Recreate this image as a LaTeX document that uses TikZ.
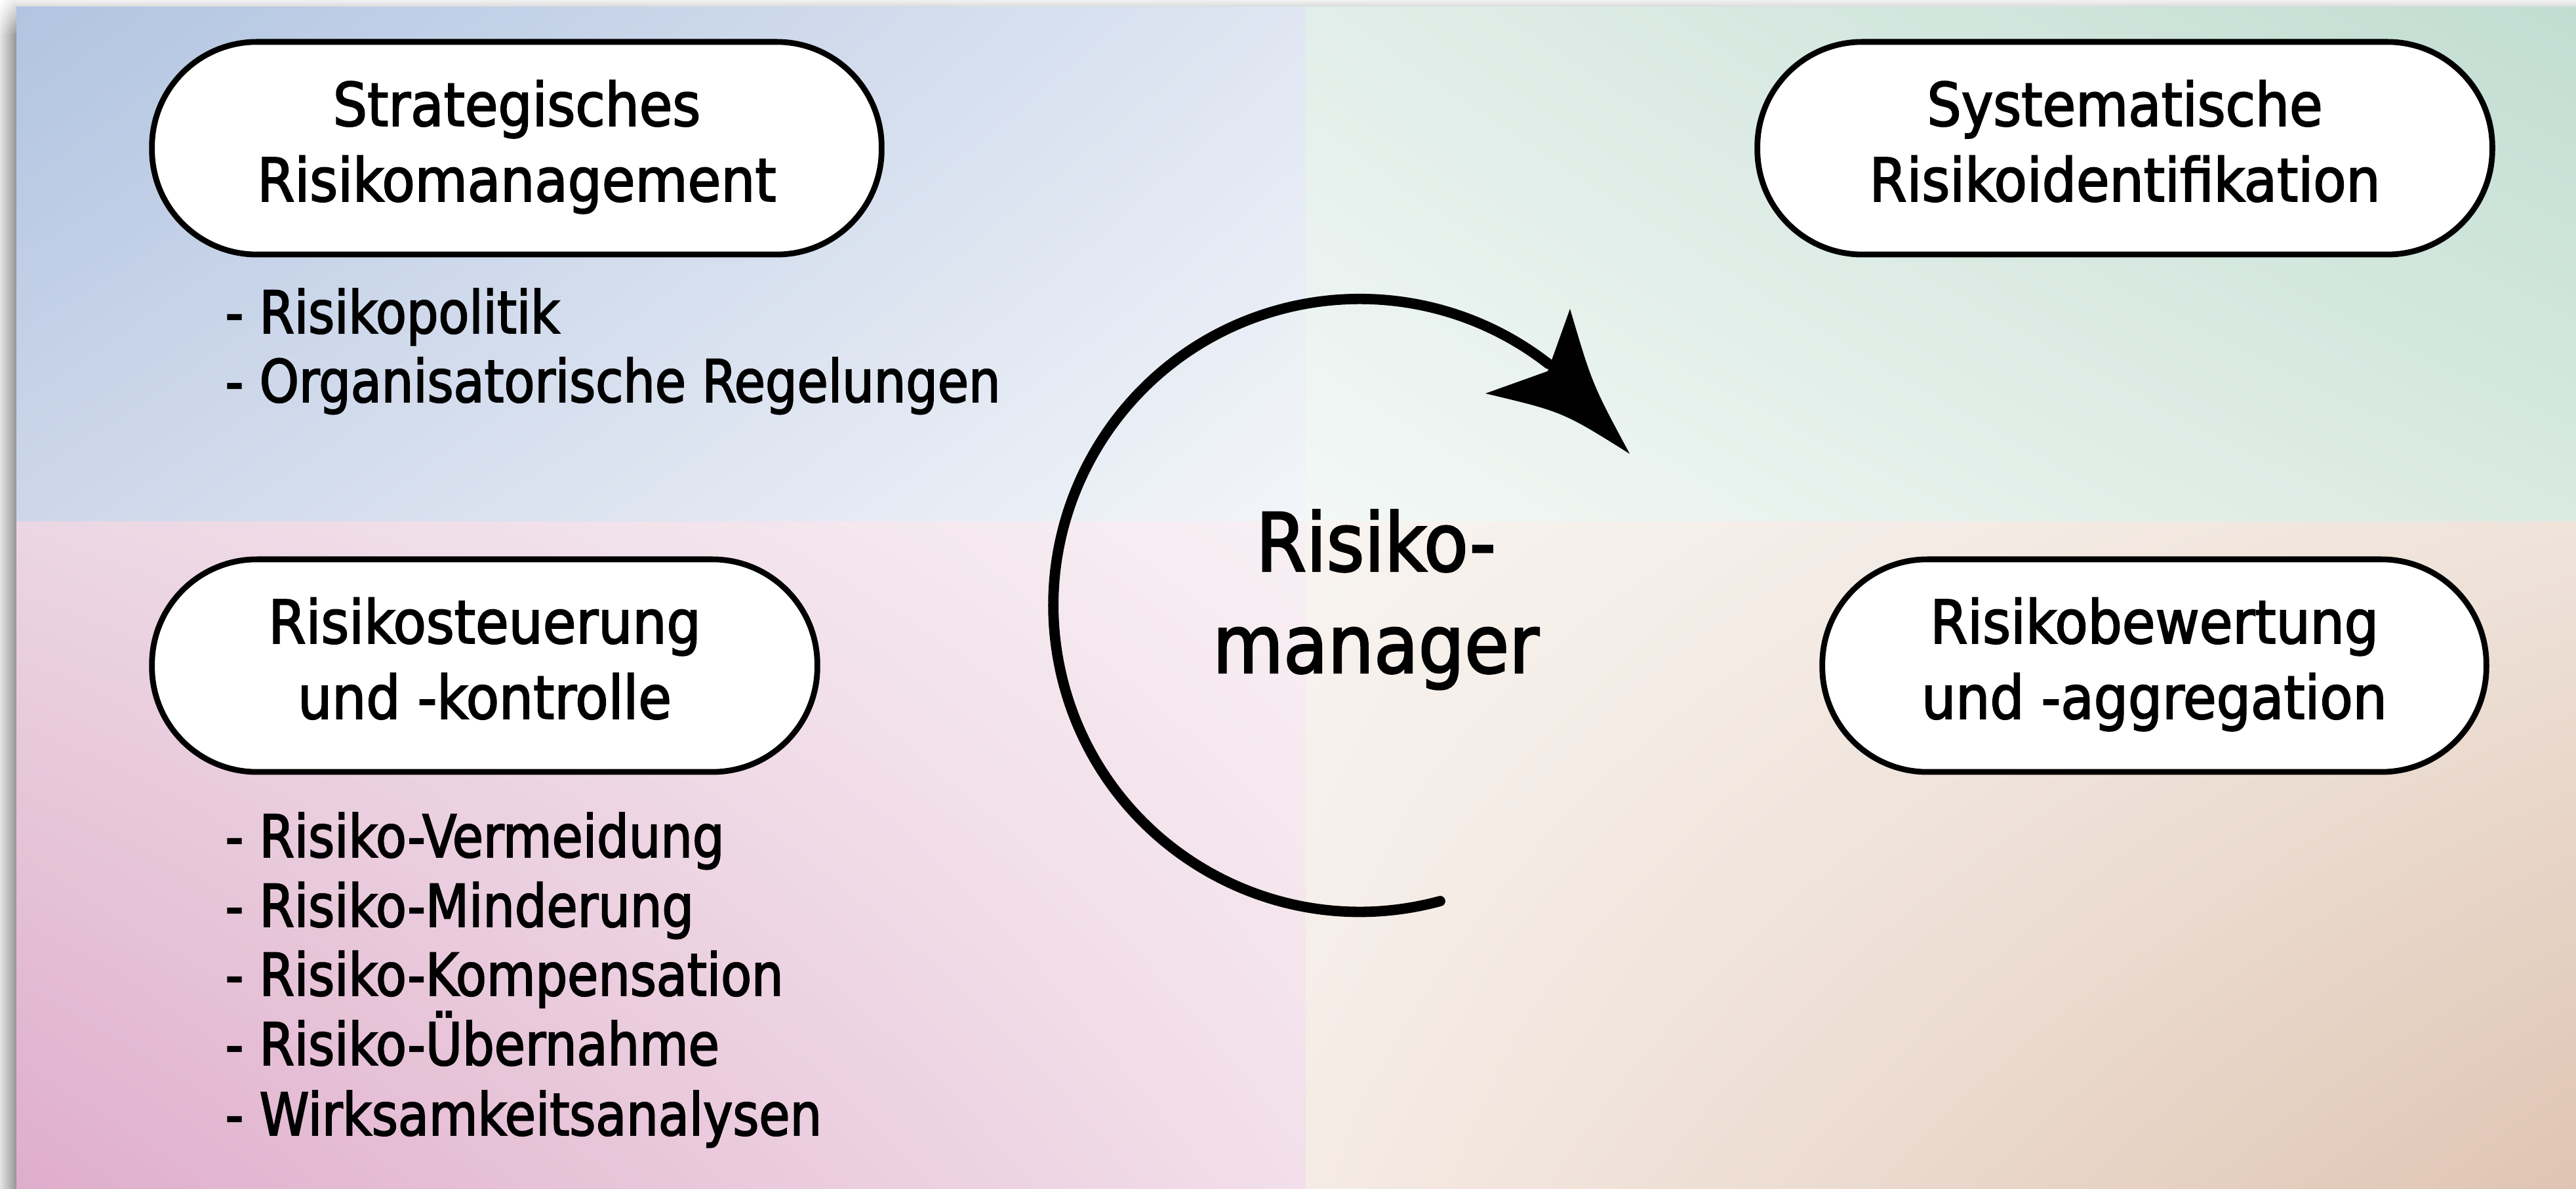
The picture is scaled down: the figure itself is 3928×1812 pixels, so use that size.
\documentclass[tikz,border=0pt]{standalone}
\usepackage{fontspec}
\setmainfont{DejaVu Sans Condensed}[FakeBold=2.2]
\newfontfamily\listface{DejaVu Sans Condensed}[FakeStretch=0.95, FakeBold=2.2]
\usetikzlibrary{shadings}
\definecolor{tlA}{HTML}{B1C4E1}\definecolor{tlB}{HTML}{DFE6F2}\definecolor{tlC}{HTML}{CDD7EA}\definecolor{tlD}{HTML}{F2F5F9}
\definecolor{trA}{HTML}{E2EEE9}\definecolor{trB}{HTML}{C1DDD2}\definecolor{trC}{HTML}{F3F8F6}\definecolor{trD}{HTML}{D9EAE2}
\definecolor{blA}{HTML}{ECD6E3}\definecolor{blB}{HTML}{F8F0F4}\definecolor{blC}{HTML}{DFADCB}\definecolor{blD}{HTML}{F2DFE9}
\definecolor{brA}{HTML}{F8F4F0}\definecolor{brB}{HTML}{EFE3DA}\definecolor{brC}{HTML}{F5EBE5}\definecolor{brD}{HTML}{DFC4B2}
\newcommand\boxfont{\fontsize{26pt}{32.7pt}\selectfont}
\newcommand\listfont{\listface\fontsize{25.5pt}{30pt}\selectfont}
\newcommand\hubfont{\fontsize{35pt}{44.1pt}\selectfont}
\newcommand\boxstrut{\rule[-6.5pt]{0pt}{25.6pt}}
\newcommand\hubstrut{\rule[-12.8pt]{0pt}{31.3pt}}
\tikzset{
  phase/.style={draw=black, fill=white, line width=2.5pt, rounded corners=1.6cm,
    minimum height=3.24cm, inner sep=0pt, align=center, font=\boxfont},
  listitem/.style={anchor=base west, inner sep=0pt, font=\listfont},
  arcline/.style={line width=4.5pt, line cap=round},
}
\begin{document}
\begin{tikzpicture}[x=0.01cm, y=0.01cm]
\useasboundingbox (0,0) rectangle (3928,1812);
% shadow
\shade[left color=black!10, right color=black!42] (0,0) rectangle (25,1760);
\shade[upper left=white, upper right=black!8, lower left=black!10, lower right=black!40] (0,1760) rectangle (25,1812);
\shade[top color=black!5, bottom color=black!15] (25,1801) rectangle (3928,1812);
% quadrants
\shade[upper left=tlA, upper right=tlB, lower left=tlC, lower right=tlD] (25,1016) rectangle (1991,1801);
\shade[upper left=trA, upper right=trB, lower left=trC, lower right=trD] (1991,1016) rectangle (3928,1801);
\shade[upper left=blA, upper right=blB, lower left=blC, lower right=blD] (25,0) rectangle (1991,1016);
\shade[upper left=brA, upper right=brB, lower left=brC, lower right=brD] (1991,0) rectangle (3928,1016);
% phase boxes
\node[phase, minimum width=11.12cm] (strat) at (788,1586) {\boxstrut Strategisches\\\boxstrut Risikomanagement};
\node[phase, minimum width=11.2cm] (ident) at (3240,1586) {\boxstrut Systematische\\\boxstrut Risikoidentifikation};
\node[phase, minimum width=10.14cm] (steuer) at (739,797) {\boxstrut Risikosteuerung\\\boxstrut und -kontrolle};
\node[phase, minimum width=10.12cm] (bewert) at (3285,797) {\boxstrut Risikobewertung\\\boxstrut und -aggregation};
% lists
\node[listitem] (s1) at (343,1304) {- Risikopolitik};
\node[listitem] (s2) at (343,1199) {- Organisatorische Regelungen};
\node[listitem] (k1) at (343,505) {- Risiko-Vermeidung};
\node[listitem] (k2) at (343,399) {- Risiko-Minderung};
\node[listitem] (k3) at (343,294) {- Risiko-Kompensation};
\node[listitem] (k4) at (343,188) {- Risiko-Übernahme};
\node[listitem] (k5) at (343,81) {- Wirksamkeitsanalysen};
% hub
\node[font=\hubfont, align=center, inner sep=0pt] (hub) at (2098,888) {\hubstrut Risiko-\\\hubstrut manager};
% circular arrow
\coordinate (astart) at (2196,438);
\draw[arcline] (astart) arc[start angle=-74.8, end angle=-308, radius=4.67cm];
\coordinate (tipT) at (2485,1120);
\coordinate (tipU) at (2394,1341);
\coordinate (tipN) at (2360,1246);
\coordinate (tipL) at (2265,1212);
\coordinate (cU) at (2428,1226);
\coordinate (cL) at (2383,1184);
\fill (tipT) .. controls (cU) .. (tipU) -- (tipN) -- (tipL) .. controls (cL) .. (tipT) -- cycle;
\end{tikzpicture}
\end{document}
